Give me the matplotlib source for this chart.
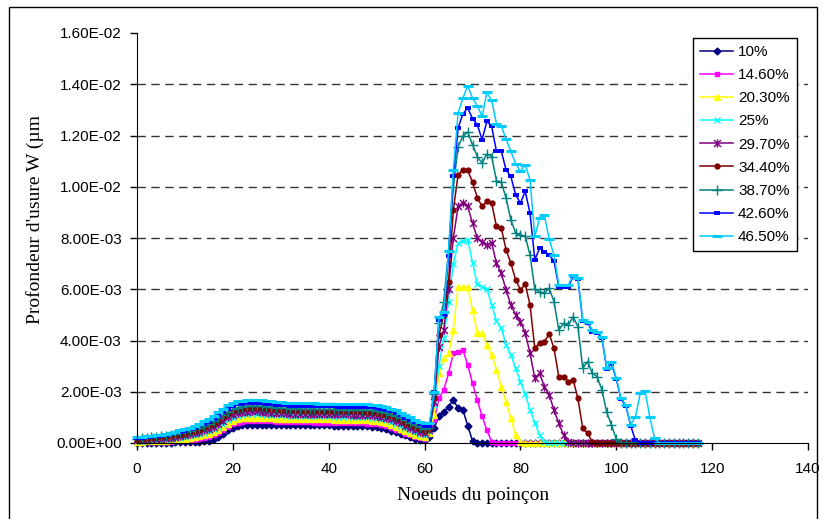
import numpy as np
import matplotlib
matplotlib.use("Agg")
import matplotlib.pyplot as plt
from matplotlib.path import Path
from matplotlib.patches import Rectangle

# noeuds du poincon 0..117
nodes = np.arange(0, 118)

labels = ['10%', '14.60%', '20.30%', '25%', '29.70%', '34.40%', '38.70%', '42.60%', '46.50%']

# profondeur d'usure, en unites de 1E-03
w10 = [0.00, 0.00, 0.00, 0.00, 0.01, 0.01, 0.01, 0.01, 0.02, 0.02, 0.02, 0.03, 0.04, 0.05, 0.06, 0.09, 0.15, 0.25, 0.37, 0.50,
       0.59, 0.65, 0.69, 0.71, 0.72, 0.72, 0.72, 0.72, 0.71, 0.71, 0.71, 0.70, 0.70, 0.70, 0.70, 0.70, 0.69, 0.69, 0.69, 0.69,
       0.69, 0.68, 0.68, 0.68, 0.68, 0.67, 0.67, 0.66, 0.65, 0.63, 0.61, 0.57, 0.53, 0.48, 0.42, 0.36, 0.30, 0.23, 0.17, 0.13,
       0.12, 0.25, 0.58, 1.05, 1.22, 1.42, 1.68, 1.35, 1.29, 0.68, 0.08, 0, 0, 0, 0, 0, 0, 0, 0, 0,
       0, 0, 0, 0, 0, 0, 0, 0, 0, 0, 0, 0, 0, 0, 0, 0, 0, 0, 0, 0,
       0, 0, 0, 0, 0, 0, 0, 0, 0, 0, 0, 0, 0, 0, 0, 0, 0, 0]
w146 = [0.02, 0.02, 0.03, 0.03, 0.03, 0.04, 0.04, 0.05, 0.06, 0.07, 0.08, 0.10, 0.12, 0.15, 0.19, 0.24, 0.31, 0.40, 0.51, 0.63,
        0.73, 0.79, 0.83, 0.85, 0.86, 0.86, 0.86, 0.85, 0.84, 0.83, 0.83, 0.82, 0.82, 0.81, 0.81, 0.81, 0.81, 0.80, 0.80, 0.80,
        0.80, 0.79, 0.79, 0.79, 0.79, 0.78, 0.78, 0.77, 0.76, 0.75, 0.73, 0.70, 0.65, 0.59, 0.52, 0.45, 0.37, 0.30, 0.24, 0.19,
        0.16, 0.35, 0.90, 1.74, 2.07, 2.72, 3.50, 3.54, 3.63, 3.05, 2.33, 1.68, 1.05, 0.50, 0.05, 0, 0, 0, 0, 0,
        0, 0, 0, 0, 0, 0, 0, 0, 0, 0, 0, 0, 0, 0, 0, 0, 0, 0, 0, 0,
        0, 0, 0, 0, 0, 0, 0, 0, 0, 0, 0, 0, 0, 0, 0, 0, 0, 0]
w203 = [0.05, 0.05, 0.06, 0.06, 0.07, 0.08, 0.09, 0.10, 0.12, 0.14, 0.16, 0.19, 0.22, 0.26, 0.30, 0.35, 0.42, 0.51, 0.63, 0.76,
        0.86, 0.92, 0.96, 0.98, 0.99, 0.99, 0.98, 0.97, 0.96, 0.95, 0.95, 0.94, 0.94, 0.93, 0.93, 0.93, 0.93, 0.92, 0.92, 0.92,
        0.92, 0.91, 0.91, 0.91, 0.91, 0.90, 0.90, 0.89, 0.88, 0.87, 0.85, 0.82, 0.77, 0.71, 0.64, 0.56, 0.48, 0.40, 0.33, 0.27,
        0.23, 0.40, 1.10, 2.72, 3.30, 3.50, 4.41, 6.08, 6.08, 6.08, 5.20, 4.28, 4.28, 3.83, 3.44, 2.85, 2.20, 1.61, 0.96, 0.31,
        0.05, 0, 0, 0, 0, 0, 0, 0, 0, 0, 0, 0, 0, 0, 0, 0, 0, 0, 0, 0,
        0, 0, 0, 0, 0, 0, 0, 0, 0, 0, 0, 0, 0, 0, 0, 0, 0, 0]
w25 = [0.07, 0.08, 0.09, 0.10, 0.11, 0.12, 0.14, 0.16, 0.18, 0.21, 0.24, 0.27, 0.31, 0.35, 0.40, 0.46, 0.54, 0.64, 0.76, 0.89,
       0.99, 1.06, 1.10, 1.12, 1.13, 1.13, 1.12, 1.11, 1.10, 1.09, 1.08, 1.07, 1.06, 1.06, 1.05, 1.05, 1.05, 1.04, 1.04, 1.04,
       1.04, 1.03, 1.03, 1.03, 1.03, 1.02, 1.02, 1.01, 1.00, 0.99, 0.97, 0.94, 0.89, 0.83, 0.76, 0.68, 0.59, 0.50, 0.42, 0.35,
       0.31, 0.45, 1.50, 3.00, 4.10, 5.50, 7.00, 7.80, 7.90, 7.93, 7.04, 6.20, 6.10, 6.00, 5.40, 4.75, 4.50, 3.83, 3.44, 2.92,
       2.40, 1.90, 1.30, 0.80, 0.30, 0.05, 0, 0, 0, 0, 0, 0, 0, 0, 0, 0, 0, 0, 0, 0,
       0, 0, 0, 0, 0, 0, 0, 0, 0, 0, 0, 0, 0, 0, 0, 0, 0, 0]
w297 = [0.10, 0.11, 0.12, 0.14, 0.15, 0.17, 0.19, 0.21, 0.24, 0.27, 0.30, 0.34, 0.38, 0.43, 0.49, 0.56, 0.64, 0.75, 0.87, 1.00,
        1.10, 1.16, 1.20, 1.22, 1.23, 1.23, 1.22, 1.21, 1.19, 1.18, 1.17, 1.16, 1.15, 1.15, 1.14, 1.14, 1.14, 1.13, 1.13, 1.13,
        1.13, 1.12, 1.12, 1.12, 1.12, 1.11, 1.11, 1.10, 1.09, 1.08, 1.06, 1.03, 0.98, 0.92, 0.85, 0.77, 0.68, 0.59, 0.51, 0.44,
        0.39, 0.50, 1.60, 3.76, 4.40, 6.00, 8.00, 9.23, 9.36, 9.23, 8.58, 8.00, 7.86, 7.73, 7.80, 7.02, 6.63, 5.98, 5.39, 5.00,
        4.74, 4.30, 3.50, 2.53, 2.72, 2.20, 1.88, 1.29, 0.77, 0.31, 0.05, 0, 0, 0, 0, 0, 0, 0, 0, 0,
        0, 0, 0, 0, 0, 0, 0, 0, 0, 0, 0, 0, 0, 0, 0, 0, 0, 0]
w344 = [0.13, 0.15, 0.16, 0.18, 0.20, 0.22, 0.24, 0.27, 0.30, 0.33, 0.37, 0.41, 0.46, 0.52, 0.58, 0.66, 0.75, 0.87, 1.00, 1.13,
        1.23, 1.29, 1.33, 1.35, 1.36, 1.36, 1.35, 1.33, 1.31, 1.30, 1.29, 1.28, 1.27, 1.27, 1.26, 1.26, 1.26, 1.25, 1.25, 1.25,
        1.25, 1.24, 1.24, 1.24, 1.24, 1.23, 1.23, 1.22, 1.21, 1.20, 1.18, 1.15, 1.10, 1.04, 0.97, 0.89, 0.80, 0.71, 0.62, 0.54,
        0.48, 0.55, 1.80, 4.20, 5.00, 6.30, 9.10, 10.47, 10.66, 10.64, 10.18, 9.58, 9.23, 9.43, 9.36, 8.45, 8.39, 7.54, 7.02, 6.37,
        5.98, 6.20, 5.39, 3.70, 3.90, 3.96, 4.26, 3.70, 2.59, 2.59, 2.40, 2.46, 1.74, 0.57, 0.38, 0.05, 0, 0, 0, 0,
        0, 0, 0, 0, 0, 0, 0, 0, 0, 0, 0, 0, 0, 0, 0, 0, 0, 0]
w387 = [0.16, 0.18, 0.20, 0.22, 0.24, 0.26, 0.28, 0.31, 0.34, 0.38, 0.42, 0.47, 0.53, 0.59, 0.66, 0.74, 0.84, 0.96, 1.09, 1.22,
        1.32, 1.38, 1.41, 1.43, 1.44, 1.44, 1.43, 1.41, 1.39, 1.37, 1.36, 1.35, 1.34, 1.33, 1.33, 1.32, 1.32, 1.32, 1.31, 1.31,
        1.31, 1.31, 1.30, 1.30, 1.30, 1.30, 1.29, 1.29, 1.28, 1.27, 1.25, 1.22, 1.17, 1.11, 1.04, 0.96, 0.88, 0.79, 0.70, 0.62,
        0.56, 0.60, 1.90, 4.70, 5.50, 7.50, 10.00, 11.57, 11.97, 12.14, 11.64, 11.18, 10.92, 11.28, 11.18, 10.23, 10.18, 9.56, 8.71, 8.19,
        8.12, 8.06, 7.34, 6.00, 5.90, 5.85, 6.04, 5.52, 4.41, 4.67, 4.60, 4.93, 4.54, 2.92, 3.18, 2.72, 2.59, 2.07, 1.20, 0.70,
        0.15, 0, 0, 0, 0, 0, 0, 0, 0, 0, 0, 0, 0, 0, 0, 0, 0, 0]
w426 = [0.19, 0.21, 0.23, 0.25, 0.27, 0.29, 0.32, 0.35, 0.39, 0.43, 0.48, 0.53, 0.59, 0.66, 0.74, 0.83, 0.94, 1.07, 1.21, 1.34,
        1.45, 1.51, 1.54, 1.56, 1.57, 1.57, 1.56, 1.54, 1.52, 1.50, 1.48, 1.47, 1.46, 1.45, 1.45, 1.44, 1.44, 1.44, 1.43, 1.43,
        1.43, 1.43, 1.42, 1.42, 1.42, 1.42, 1.41, 1.41, 1.40, 1.39, 1.37, 1.34, 1.29, 1.23, 1.16, 1.08, 0.99, 0.90, 0.81, 0.73,
        0.67, 0.65, 2.00, 4.80, 5.00, 7.30, 10.40, 12.29, 12.85, 13.07, 12.66, 12.42, 11.84, 12.55, 12.36, 11.38, 11.40, 10.66, 10.40, 9.69,
        9.36, 9.82, 8.97, 7.15, 7.60, 7.47, 7.34, 7.10, 6.10, 6.10, 6.10, 6.50, 6.40, 4.75, 4.70, 4.35, 4.30, 4.10, 2.90, 3.10,
        2.50, 1.70, 1.45, 0.68, 0.10, 0, 0, 0, 0, 0, 0, 0, 0, 0, 0, 0, 0, 0]
w465 = [0.22, 0.24, 0.26, 0.28, 0.30, 0.33, 0.36, 0.40, 0.44, 0.49, 0.54, 0.60, 0.67, 0.75, 0.84, 0.94, 1.06, 1.20, 1.34, 1.47,
        1.57, 1.62, 1.65, 1.67, 1.68, 1.68, 1.67, 1.65, 1.63, 1.61, 1.59, 1.58, 1.57, 1.56, 1.56, 1.55, 1.55, 1.55, 1.54, 1.54,
        1.54, 1.54, 1.53, 1.53, 1.53, 1.53, 1.52, 1.52, 1.51, 1.50, 1.48, 1.45, 1.40, 1.34, 1.27, 1.19, 1.10, 1.00, 0.91, 0.83,
        0.77, 0.80, 2.00, 4.90, 5.10, 7.50, 10.66, 12.88, 13.46, 13.94, 13.46, 13.16, 12.75, 13.68, 13.37, 12.46, 12.38, 11.86, 11.38, 10.90,
        10.60, 10.86, 10.27, 8.06, 8.78, 8.88, 7.96, 7.34, 6.17, 6.17, 6.17, 6.56, 6.43, 4.80, 4.74, 4.41, 4.35, 4.15, 2.92, 3.18,
        2.53, 1.74, 1.48, 0.70, 1.03, 1.94, 2.04, 1.00, 0.18, 0, 0, 0, 0, 0, 0, 0, 0, 0]

series = [w10, w146, w203, w25, w297, w344, w387, w426, w465]

yticks = [0, 0.002, 0.004, 0.006, 0.008, 0.010, 0.012, 0.014, 0.016]
ytick_labels = ['0.00E+00', '2.00E-03', '4.00E-03', '6.00E-03', '8.00E-03',
                '1.00E-02', '1.20E-02', '1.40E-02', '1.60E-02']
xticks = [0, 20, 40, 60, 80, 100, 120, 140]

# styles Excel
star = Path([(-1, -1), (1, 1), (-1, 1), (1, -1), (0, -1.2), (0, 1.2)],
            [Path.MOVETO, Path.LINETO, Path.MOVETO, Path.LINETO, Path.MOVETO, Path.LINETO])
colors = ['#000080', '#FF00FF', '#FFFF00', '#00FFFF', '#800080', '#800000', '#008080', '#0000FF', '#00CCFF']
markers = ['D', 's', '^', 'x', star, 'o', '+', '_', '_']
msizes = [3.5, 3.5, 4.5, 5, 6, 3.5, 6.5, 4, 7]
mews = [1, 1, 1, 1, 1, 1, 1, 2.8, 2.2]

plt.rcParams['font.family'] = 'Liberation Sans'

fig = plt.figure(figsize=(8.25, 5.19), dpi=100)
ax = fig.add_axes([137 / 825, 1 - 443 / 519, 671 / 825, 410 / 519])

for vals, lab, c, m, ms, mw in zip(series, labels, colors, markers, msizes, mews):
    y = np.array(vals) * 1e-3
    ax.plot(nodes, y, color=c, lw=1.1, marker=m, ms=ms, mew=mw, mec=c, mfc=c,
            label=lab, clip_on=False)

ax.set_xlim(0, 140)
ax.set_ylim(0, 0.016)
ax.set_xticks(xticks)
ax.set_yticks(yticks)
ax.set_yticklabels(ytick_labels)
ax.tick_params(direction='out', length=5, width=1, labelsize=11, colors='black')
ax.tick_params(axis='y', pad=6)
ax.tick_params(axis='x', pad=9)

ax.set_axisbelow(True)
ax.yaxis.grid(True, linestyle=(0, (6, 4)), color='#333333', lw=1)
ax.get_ygridlines()[-1].set_visible(False)
ax.get_ygridlines()[0].set_visible(False)
ax.spines['top'].set_visible(False)
ax.spines['right'].set_visible(False)

fig.text(473 / 825, 1 - 495 / 519, 'Noeuds du poinçon', ha='center', va='center',
         family='Liberation Serif', fontsize=14)
fig.text(35 / 825, 1 - 220 / 519, "Profondeur d'usure W (µm", ha='center', va='center',
         rotation=90, family='Liberation Serif', fontsize=14)

leg = ax.legend(loc='upper left', bbox_to_anchor=(693 / 825, 1 - 38 / 519),
                bbox_transform=fig.transFigure, borderaxespad=0, fancybox=False,
                edgecolor='black', framealpha=1, fontsize=11, handlelength=2.2,
                handletextpad=0.3, labelspacing=0.6, borderpad=0.45)
leg.get_frame().set_linewidth(1)

fig.patches.append(Rectangle((9 / 825, -0.05), (817 - 9) / 825, 1 - 7 / 519 + 0.05,
                             transform=fig.transFigure, fill=False, ec='black', lw=1))

plt.savefig('out.png', dpi=100)
